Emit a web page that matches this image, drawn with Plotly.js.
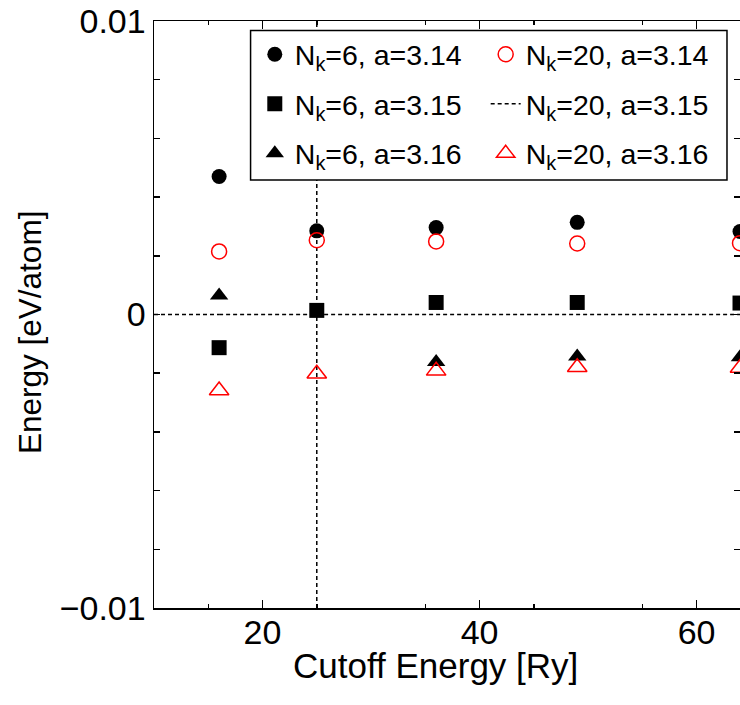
<!DOCTYPE html>
<html>
<head>
<meta charset="utf-8">
<script src="https://cdn.plot.ly/plotly-3.0.1.min.js"></script>
<style>
  html, body { margin: 0; padding: 0; background: #fff; }
  #chart { width: 740px; height: 705px; }
</style>
</head>
<body>
<div id="chart"></div>
<script>
// ---- data ----
const cutoff = [16, 25, 36, 49, 64];               // cutoff energy [Ry]
const n6_314  = [0.0047, 0.00285, 0.00296, 0.00314, 0.00283];
const n20_314 = [0.00215, 0.00253, 0.00249, 0.00242, 0.00243];
const n6_315  = [-0.00113, 0.00014, 0.00041, 0.00041, 0.00039];
const n20_315 = [0, 0, 0, 0, 0];                   // reference set
const n6_316  = [0.00065, null, -0.00162, -0.00143, -0.00146];
const n20_316 = [-0.00259, -0.00202, -0.00192, -0.0018, -0.00182];
const chosenCutoff = 25;

const seriesNames = [
  'N<sub>k</sub>=6, a=3.14', 'N<sub>k</sub>=20, a=3.14',
  'N<sub>k</sub>=6, a=3.15', 'N<sub>k</sub>=20, a=3.15',
  'N<sub>k</sub>=6, a=3.16', 'N<sub>k</sub>=20, a=3.16'
];
const xTitle = 'Cutoff Energy [Ry]';
const yTitle = 'Energy [eV/atom]';

const xRange = [10, 64];
const yRange = [-0.01, 0.01];
const xTickVals = [20, 40, 60];
const xTickText = ['20', '40', '60'];
const xMajorUnlabeled = [30, 50];
const xMinorVals = [15, 25, 35, 45, 55];
const yTickVals = [-0.01, 0, 0.01];
const yTickText = ['\u22120.01', '0', '0.01'];
const yMinorVals = [-0.008, -0.006, -0.004, -0.002, 0.002, 0.004, 0.006, 0.008];

// ---- styling ----
const FONT = 'Liberation Sans, Arial, Helvetica, sans-serif';
const RED = '#ff0000';
const dotDash = '4px,3px';

const traces = [
  { x: cutoff, y: n20_315, mode: 'lines', name: seriesNames[3],
    line: { color: '#000', width: 1.5, dash: dotDash },
    legend: 'legend2', legendgroup: 'g4', legendrank: 2 },
  { x: cutoff, y: n6_314, mode: 'markers', name: seriesNames[0],
    marker: { symbol: 'circle', size: 15, color: '#000' },
    legend: 'legend', legendgroup: 'g1', legendrank: 1 },
  { x: cutoff, y: n6_315, mode: 'markers', name: seriesNames[2],
    marker: { symbol: 'square', size: 15, color: '#000' },
    legend: 'legend', legendgroup: 'g2', legendrank: 2 },
  { x: cutoff, y: n6_316, mode: 'markers', name: seriesNames[4],
    marker: { symbol: 'triangle-up', size: 16, color: '#000' },
    legend: 'legend', legendgroup: 'g3', legendrank: 3 },
  { x: cutoff, y: n20_314, mode: 'markers', name: seriesNames[1],
    marker: { symbol: 'circle-open', size: 15, color: RED, line: { color: RED, width: 1.5 } },
    legend: 'legend2', legendgroup: 'g5', legendrank: 1 },
  { x: cutoff, y: n20_316, mode: 'markers', name: seriesNames[5],
    marker: { symbol: 'triangle-up-open', size: 17, color: RED, line: { color: RED, width: 1.5 } },
    legend: 'legend2', legendgroup: 'g6', legendrank: 3 }
];

const legendCommon = {
  orientation: 'v', xanchor: 'left', yanchor: 'top', y: 0.986,
  bgcolor: 'rgba(0,0,0,0)', borderwidth: 0,
  font: { family: FONT, size: 28.5, color: '#000' },
  tracegroupgap: 9.5, itemclick: false, valign: 'middle'
};

const axisLineCommon = {
  showgrid: false, zeroline: false,
  showline: true, linecolor: '#000', linewidth: 1.5, mirror: 'ticks',
  ticks: 'inside', tickwidth: 1.5, tickcolor: '#000'
};

const layout = {
  width: 740, height: 705,
  margin: { l: 154, r: 0, t: 21, b: 97, pad: 0 },
  paper_bgcolor: '#fff', plot_bgcolor: '#fff',
  font: { family: FONT, color: '#000' },
  showlegend: true,
  legend: Object.assign({}, legendCommon, { x: 0.172 }),
  legend2: Object.assign({}, legendCommon, { x: 0.566 }),
  xaxis: Object.assign({}, axisLineCommon, {
    range: xRange,
    tickmode: 'array', tickvals: xTickVals, ticktext: xTickText,
    ticklen: 8, ticklabelstandoff: -6,
    minor: { tickmode: 'array', tickvals: xMinorVals, ticks: 'inside', ticklen: 4, tickwidth: 1.5, tickcolor: '#000', showgrid: false },
    tickfont: { family: FONT, size: 34, color: '#000' }
  }),
  xaxis2: {
    overlaying: 'x', anchor: 'y', side: 'bottom', range: xRange,
    showgrid: false, zeroline: false, showline: false, mirror: 'ticks',
    tickmode: 'array', tickvals: xMajorUnlabeled, showticklabels: false,
    ticks: 'inside', ticklen: 8, tickwidth: 1.5, tickcolor: '#000'
  },
  yaxis: Object.assign({}, axisLineCommon, {
    range: yRange, ticklen: 6,
    tickmode: 'array', tickvals: yTickVals, ticktext: yTickText,
    minor: { tickmode: 'array', tickvals: yMinorVals, ticks: 'inside', ticklen: 6, tickwidth: 1.5, tickcolor: '#000', showgrid: false },
    tickfont: { family: FONT, size: 34, color: '#000' }
  }),
  annotations: [
    { text: xTitle, xref: 'paper', yref: 'paper', x: 0.481, y: 0,
      xanchor: 'center', yanchor: 'top', yshift: -36, showarrow: false,
      font: { family: FONT, size: 35, color: '#000' } },
    { text: yTitle, xref: 'paper', yref: 'paper', x: -0.2116, y: 0.4685,
      xanchor: 'center', yanchor: 'middle', textangle: -90, showarrow: false,
      font: { family: FONT, size: 31.5, color: '#000' } }
  ],
  shapes: [
    { type: 'line', layer: 'below', xref: 'x', yref: 'y',
      x0: xRange[0], x1: cutoff[0], y0: n20_315[0], y1: n20_315[0],
      line: { color: '#000', width: 1.5, dash: dotDash } },
    { type: 'line', layer: 'below', xref: 'x', yref: 'paper',
      x0: chosenCutoff, x1: chosenCutoff, y0: 0, y1: 1,
      line: { color: '#000', width: 1.5, dash: dotDash } },
    { type: 'rect', layer: 'above', xref: 'paper', yref: 'paper',
      x0: 0.1648, x1: 0.9778, y0: 0.729, y1: 0.984,
      fillcolor: '#fff', line: { color: '#000', width: 1.5 } }
  ]
};

Plotly.newPlot('chart', traces, layout, { displayModeBar: false, staticPlot: true });
</script>
</body>
</html>
